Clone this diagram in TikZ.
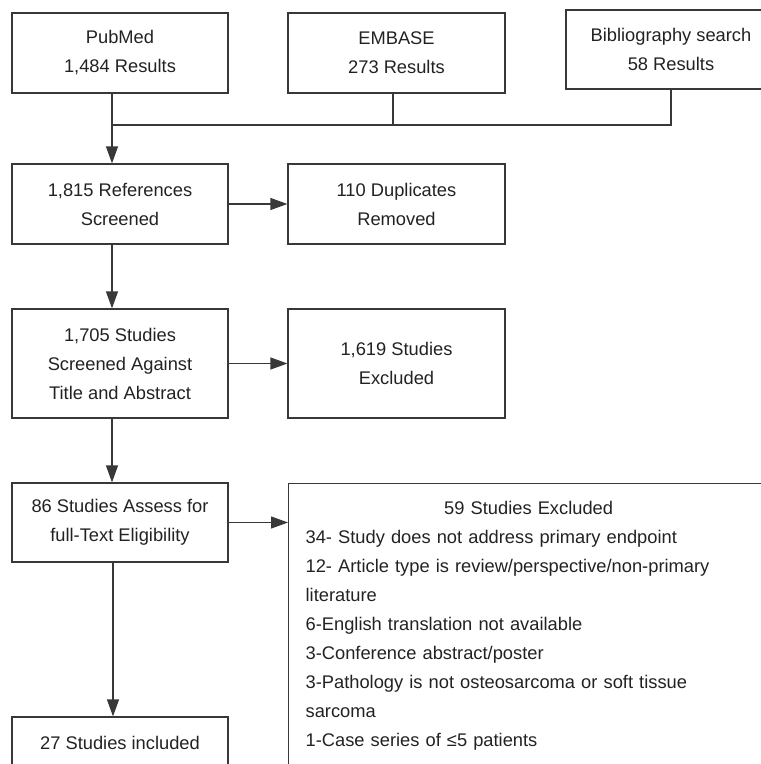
\documentclass[tikz,border=0pt]{standalone}
\usepackage{fontspec}
\setmainfont{Liberation Sans}
\usetikzlibrary{arrows.meta,calc}
\definecolor{linecol}{HTML}{383838}
\definecolor{textcol}{HTML}{222222}
\begin{document}
\begin{tikzpicture}[x=1bp,y=-1bp,
  box/.style={draw=linecol,line width=1.25bp,text=textcol,align=center,inner sep=0pt,
    font=\fontsize{18.3bp}{29bp}\selectfont},
  smallbox/.style={box,minimum width=216bp},
  conn/.style={draw=linecol,line width=1.25bp},
  arr/.style={conn,-{Triangle[length=17bp,width=12bp]}}]
\useasboundingbox (0,0) rectangle (761,764);
% top row
\node[smallbox,minimum height=80bp] (pub) at (120,53) {PubMed\\1,484 Results};
\node[box,minimum width=217bp,minimum height=80bp] (emb) at (396.5,53) {EMBASE\\273 Results};
\node[box,minimum width=210bp,minimum height=79bp] (bib) at (671,49.5) {Bibliography search\\58 Results};
% second row
\node[smallbox,minimum height=80bp] (ref) at (120,204) {1,815 References\\Screened};
\node[box,minimum width=217bp,minimum height=80bp] (dup) at (396.5,204) {110 Duplicates\\Removed};
% third row
\node[smallbox,minimum height=109bp] (tit) at (120,363.5) {1,705 Studies\\Screened Against\\Title and Abstract};
\node[box,minimum width=217bp,minimum height=109bp] (exa) at (396.5,363.5) {1,619 Studies\\Excluded};
% fourth row
\node[smallbox,minimum height=79bp] (full) at (120,522.5) {86 Studies Assess for\\full-Text Eligibility};
\node[box,anchor=north west,text width=446bp,align=left,inner xsep=17bp,inner ysep=18bp] (exb) at (288,483)
 {\makebox[446bp]{59 Studies Excluded}\\
  34- Study does not address primary endpoint\\
  12- Article type is review/perspective/non-primary\\
  literature\\
  6-English translation not available\\
  3-Conference abstract/poster\\
  3-Pathology is not osteosarcoma or soft tissue\\
  sarcoma\\
  1-Case series of ≤5 patients};
\node[smallbox,minimum height=52bp] (inc) at (120,743) {27 Studies included};
% connectors
\coordinate (jn) at (112,125);
\draw[conn] ([xshift=-3.5bp]emb.south) |- (jn);
\draw[conn] (bib.south) |- (jn);
\draw[arr] ([xshift=-8bp]pub.south) -- ([xshift=-8bp]ref.north);
\draw[arr] (ref.east) -- (ref.east -| dup.west);
\draw[arr] ([xshift=-8bp]ref.south) -- ([xshift=-8bp]tit.north);
\draw[arr] (tit.east) -- (tit.east -| exa.west);
\draw[arr] ([xshift=-8bp]tit.south) -- ([xshift=-8bp]full.north);
\draw[arr] (full.east) -- (full.east -| exb.west);
\draw[arr] ([xshift=-7bp]full.south) -- ([xshift=-7bp]inc.north);
\end{tikzpicture}
\end{document}
